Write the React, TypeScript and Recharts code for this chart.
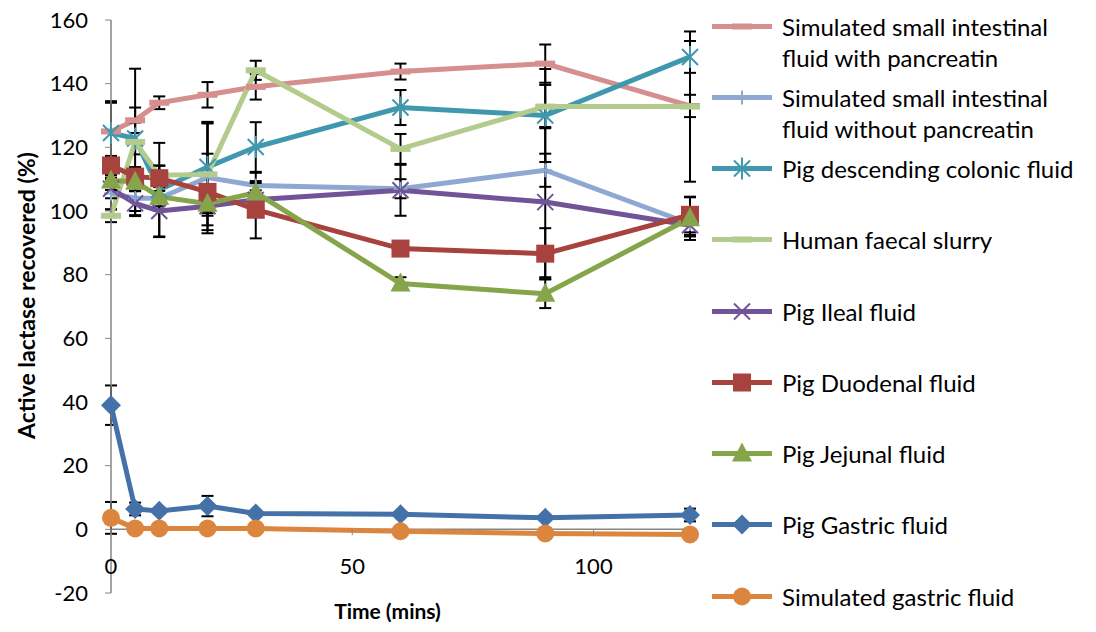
import React from "react";
import { LineChart, Line, XAxis, YAxis, ReferenceLine, ErrorBar } from "recharts";

// sampling times (mins)
const times = [0, 5, 10, 20, 30, 60, 90, 120];
const xTicks = [0, 50, 100];
const yTicks = [-20, 0, 20, 40, 60, 80, 100, 120, 140, 160];

// active lactase recovered (%) and error (+/-) per medium
const sifPancreatin = [125, 128.5, 134, 136.5, 139, 143.8, 146.3, 133];
const sifPancreatinErr = [9, 4, 2, 4, 4, 2.5, 6, 3.5];

const sifNoPancreatin = [105.5, 104, 104, 110.5, 108, 107, 112.8, 96];
const sifNoPancreatinErr = [5, 4, 4, 17.5, 4, 3, 5.2, 4];

const colonic = [124.5, 122.8, 106.6, 113.8, 120.1, 132.5, 130, 148.4];
const colonicErr = [10, 5, 14.8, 14, 7.8, 5.5, 14.6, 5];

const faecal = [98.5, 121.7, 111.2, 111.5, 144.2, 119.5, 132.8, 132.8];
const faecalErr = [2, 23, 3, 16, 3, 4.7, 6.8, 23.6];

const ileal = [107, 102.4, 100, 101.5, 103.5, 106.5, 102.8, 95.5];
const ilealErr = [3, 4, 8, 3, 3, 8, 23.6, 3];

const duodenal = [114.3, 110.8, 110.3, 106, 100.4, 88.2, 86.6, 98.8];
const duodenalErr = [3, 3, 4, 12, 9, 1.5, 8, 5.5];

const jejunal = [109.6, 109.2, 104.5, 102.3, 105.8, 77.2, 74, 97.7];
const jejunalErr = [3, 3, 3, 3, 3, 2, 4.5, 6.8];

const gastric = [39, 6.4, 5.8, 7.3, 5, 4.7, 3.6, 4.5];
const gastricErr = [6.2, 2, 1, 3.2, 0.5, 0.5, 0.5, 2];

const sgf = [3.6, 0.3, 0.3, 0.3, 0.3, -0.6, -1.3, -1.6];
const sgfErr = [5, 0.3, 0.3, 0.3, 0.3, 0.3, 0.3, 0.3];

type MarkerKind = "dash" | "plus" | "star" | "x" | "square" | "triangle" | "diamond" | "circle";

const series: { key: string; name: string; color: string; marker: MarkerKind; values: number[]; errors: number[] }[] = [
  { key: "sifPan", name: "Simulated small intestinal fluid with pancreatin", color: "#D58F8E", marker: "dash", values: sifPancreatin, errors: sifPancreatinErr },
  { key: "sifNoPan", name: "Simulated small intestinal fluid without pancreatin", color: "#8EA8D1", marker: "plus", values: sifNoPancreatin, errors: sifNoPancreatinErr },
  { key: "colonic", name: "Pig descending colonic fluid", color: "#3F98AE", marker: "star", values: colonic, errors: colonicErr },
  { key: "faecal", name: "Human faecal slurry", color: "#B3CB8C", marker: "dash", values: faecal, errors: faecalErr },
  { key: "ileal", name: "Pig Ileal fluid", color: "#705497", marker: "x", values: ileal, errors: ilealErr },
  { key: "duodenal", name: "Pig Duodenal fluid", color: "#A8423F", marker: "square", values: duodenal, errors: duodenalErr },
  { key: "jejunal", name: "Pig Jejunal fluid", color: "#86A44A", marker: "triangle", values: jejunal, errors: jejunalErr },
  { key: "gastric", name: "Pig Gastric fluid", color: "#4472A8", marker: "diamond", values: gastric, errors: gastricErr },
  { key: "sgf", name: "Simulated gastric fluid", color: "#DC853E", marker: "circle", values: sgf, errors: sgfErr },
];

const data = times.map((t, i) => {
  const row: Record<string, number> = { time: t };
  series.forEach((s) => {
    row[s.key] = s.values[i];
    row[s.key + "Err"] = s.errors[i];
  });
  return row;
});

const FONT = "Lato, 'Open Sans', sans-serif";
const W = 1096;
const H = 632;
const TOP = 20;
const BOTTOM = 39;
const Y_MIN = -20;
const Y_MAX = 160;
const PLOT_H = H - TOP - BOTTOM;
// distance from the plot bottom up to the y = 0 line
const ZERO_UP = (PLOT_H * (0 - Y_MIN)) / (Y_MAX - Y_MIN);

function Marker({ kind, cx, cy, color }: { kind: MarkerKind; cx: number; cy: number; color: string }) {
  switch (kind) {
    case "dash":
      return <rect x={cx - 10} y={cy - 3} width={20} height={6} fill={color} />;
    case "plus":
      return <path d={`M${cx - 7},${cy}H${cx + 7}M${cx},${cy - 7}V${cy + 7}`} stroke={color} strokeWidth={2} fill="none" />;
    case "x":
      return <path d={`M${cx - 8},${cy - 8}L${cx + 8},${cy + 8}M${cx - 8},${cy + 8}L${cx + 8},${cy - 8}`} stroke={color} strokeWidth={2} fill="none" />;
    case "star":
      return (
        <path
          d={`M${cx - 8},${cy - 8}L${cx + 8},${cy + 8}M${cx - 8},${cy + 8}L${cx + 8},${cy - 8}M${cx},${cy - 11}V${cy + 11}`}
          stroke={color}
          strokeWidth={2}
          fill="none"
        />
      );
    case "square":
      return <rect x={cx - 9} y={cy - 9} width={18} height={18} fill={color} />;
    case "triangle":
      return <polygon points={`${cx},${cy - 11} ${cx + 10},${cy + 8} ${cx - 10},${cy + 8}`} fill={color} />;
    case "diamond":
      return <polygon points={`${cx},${cy - 10} ${cx + 10},${cy} ${cx},${cy + 10} ${cx - 10},${cy}`} fill={color} />;
    case "circle":
      return <circle cx={cx} cy={cy} r={9} fill={color} />;
  }
  return null;
}

function XTick(props: any) {
  const { x, y, payload } = props;
  const y0 = y - ZERO_UP;
  return (
    <g>
      <line x1={x} x2={x} y1={y0} y2={y0 + 6} stroke="#868686" strokeWidth={1} />
      <text x={x} y={y0 + 36} textAnchor="middle" dominantBaseline="central" fontFamily={FONT} fontSize={22} fill="#000">
        {payload.value}
      </text>
    </g>
  );
}

function Legend() {
  return (
    <div style={{ position: "absolute", left: 0, top: 0, width: W, height: H, pointerEvents: "none" }}>
      {series.map((s, i) => {
        const cy = 26 + i * 71.25;
        return (
          <div key={s.key} style={{ position: "absolute", left: 712, top: cy - 15.5 }}>
            <svg width={62} height={31} style={{ position: "absolute", left: 0, top: 0 }}>
              <line x1={0} x2={60} y1={15.5} y2={15.5} stroke={s.color} strokeWidth={5} />
              <Marker kind={s.marker} cx={30} cy={15.5} color={s.color} />
            </svg>
            <div
              style={{
                position: "absolute",
                left: 70,
                top: 0,
                width: 304,
                fontFamily: FONT,
                fontSize: 24,
                lineHeight: "31px",
                color: "#000",
              }}
            >
              {s.name}
            </div>
          </div>
        );
      })}
    </div>
  );
}

export default function App() {
  return (
    <div style={{ position: "absolute", left: 0, top: 0, width: W, height: H, background: "#fff" }}>
      <LineChart width={W} height={H} data={data} margin={{ top: TOP, right: 406, bottom: 0, left: 0 }}>
        <XAxis
          type="number"
          dataKey="time"
          domain={[0, 120]}
          ticks={xTicks}
          interval={0}
          height={BOTTOM}
          axisLine={false}
          tickLine={false}
          tickSize={0}
          tickMargin={0}
          tick={<XTick />}
          label={{
            content: (p: any) => (
              <text
                x={p.viewBox.x + p.viewBox.width / 2 - 13}
                y={610}
                textAnchor="middle"
                dominantBaseline="central"
                fontFamily={FONT}
                fontWeight="bold"
                fontSize={21}
                fill="#000"
              >
                Time (mins)
              </text>
            ),
          }}
        />
        <YAxis
          type="number"
          domain={[Y_MIN, Y_MAX]}
          ticks={yTicks}
          interval={0}
          width={111}
          axisLine={{ stroke: "#868686", strokeWidth: 1.5 }}
          tickLine={{ stroke: "#868686" }}
          tickSize={6}
          tickMargin={17}
          tick={{ fill: "#000", fontSize: 22, fontFamily: FONT }}
          label={{
            content: (p: any) => (
              <text
                x={26}
                y={p.viewBox.y + p.viewBox.height / 2 - 11}
                transform={`rotate(-90, 26, ${p.viewBox.y + p.viewBox.height / 2 - 11})`}
                textAnchor="middle"
                dominantBaseline="central"
                fontFamily={FONT}
                fontWeight="bold"
                fontSize={23}
                fill="#000"
              >
                Active lactase recovered (%)
              </text>
            ),
          }}
        />
        <ReferenceLine y={0} stroke="#868686" strokeWidth={1.5} />
        {series.map((s) => (
          <Line
            key={s.key}
            type="linear"
            dataKey={s.key}
            name={s.name}
            stroke={s.color}
            strokeWidth={5}
            isAnimationActive={false}
            activeDot={false}
            dot={(p: any) => <Marker key={`${s.key}-${p.index}`} kind={s.marker} cx={p.cx} cy={p.cy} color={s.color} />}
          >
            <ErrorBar dataKey={s.key + "Err"} direction="y" width={6} stroke="#000" strokeWidth={2} />
          </Line>
        ))}
      </LineChart>
      <Legend />
    </div>
  );
}
